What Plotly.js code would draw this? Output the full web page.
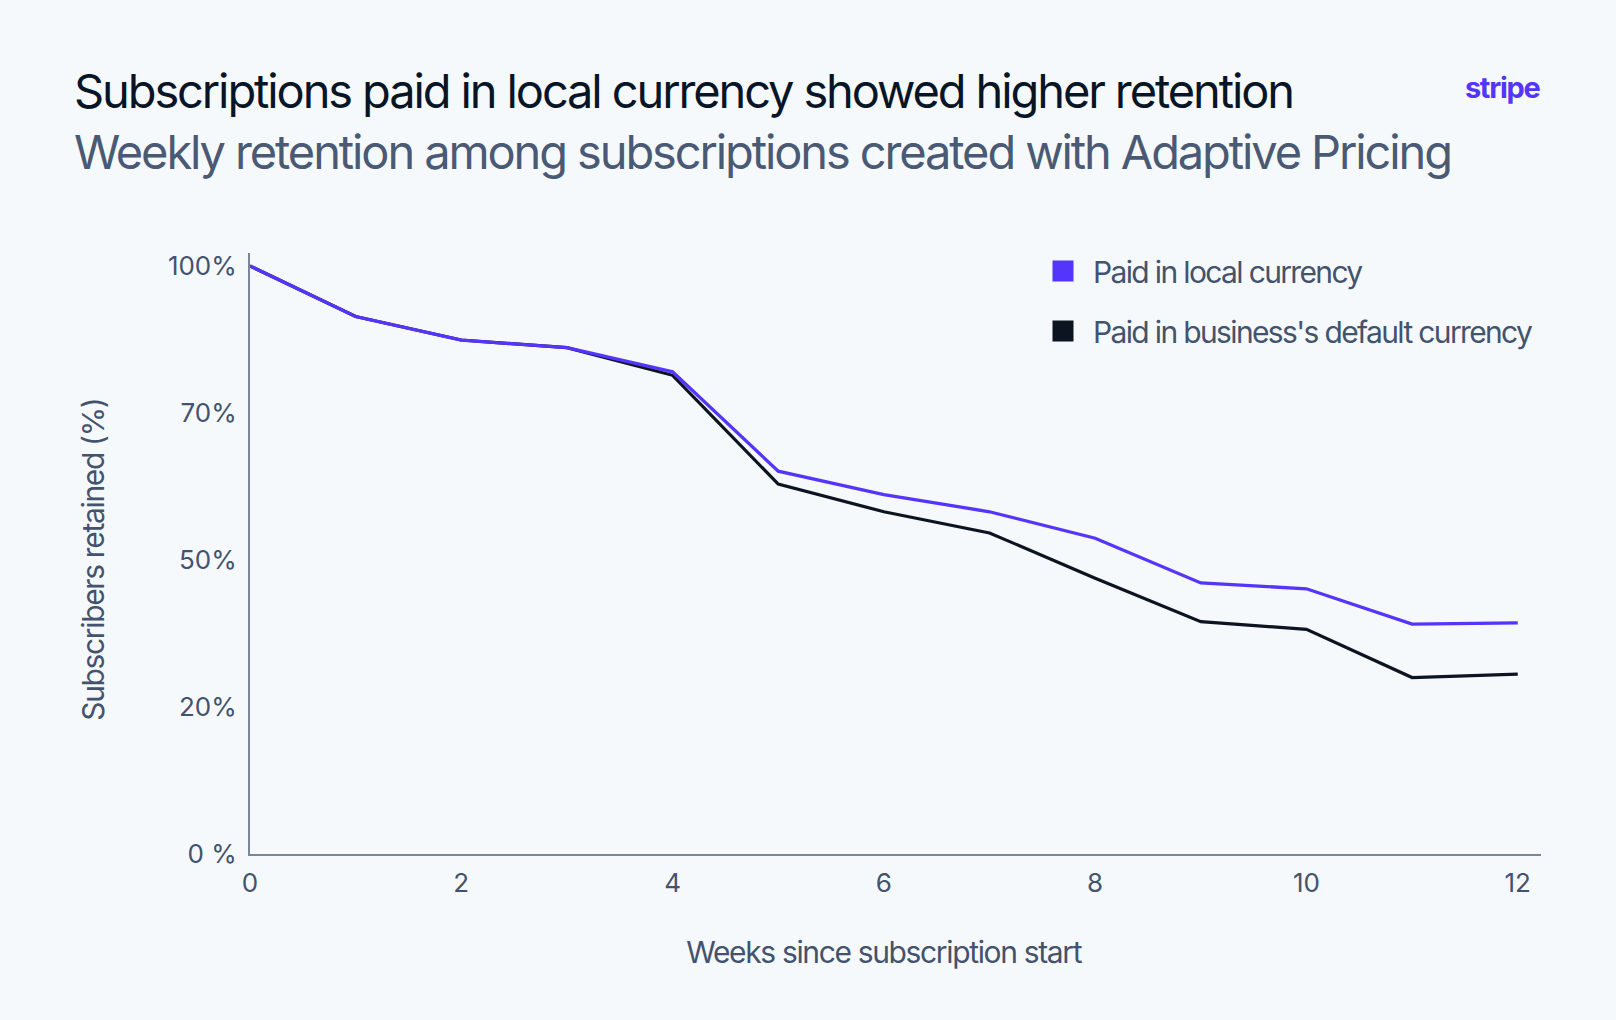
<!DOCTYPE html>
<html><head><meta charset="utf-8">
<script src="https://cdn.plot.ly/plotly-3.0.1.min.js"></script>
<style>
html,body{margin:0;padding:0;background:#f6f9fc;}
#chart{width:1616px;height:1020px;}
#chart svg text{letter-spacing:-0.045em;}
#chart svg g.legend text{letter-spacing:-0.055em;}
#chart svg g.xtick text, #chart svg g.ytick text{letter-spacing:0;}
</style></head><body><div id="chart"></div>
<script>
const weeks = [0,1,2,3,4,5,6,7,8,9,10,11,12];
const localCurrency = [100, 91.4, 87.4, 86.1, 82.0, 65.1, 61.1, 58.2, 53.7, 46.1, 45.1, 39.1, 39.3];
const defaultCurrency = [100, 91.4, 87.4, 86.1, 81.4, 62.9, 58.2, 54.6, 46.9, 39.5, 38.2, 30.0, 30.6];
const seriesNames = ["Paid in local currency", "Paid in business's default currency"];
const xTickVals = [0,2,4,6,8,10,12];
const yTickVals = [0,25,50,75,100];
const yTickText = ["0 %","20%","50%","70%","100%"];
const titleText = 'Subscriptions paid in local currency showed higher retention';
const subtitleText = 'Weekly retention among subscriptions created with Adaptive Pricing';
const xTitleText = 'Weeks since subscription start';
const yTitleText = 'Subscribers retained (%)';

const PURPLE = '#5335fb';
const DARK = '#0b1420';
const SLATE = '#43536d';
const FONT = 'Inter, "Noto Sans", sans-serif';

const traces = [
  {x: weeks, y: defaultCurrency, type:'scatter', mode:'lines', name: seriesNames[1],
   line:{color:DARK, width:3.2}, showlegend:false, hoverinfo:'x+y'},
  {x: weeks, y: localCurrency, type:'scatter', mode:'lines', name: seriesNames[0],
   line:{color:PURPLE, width:3.3}, showlegend:false, hoverinfo:'x+y'},
  {x:[null], y:[null], type:'scatter', mode:'markers', name: seriesNames[0], legendgroup:'a', legendrank:1,
   marker:{symbol:'square', size:16, color:PURPLE, line:{color:PURPLE, width:5}}},
  {x:[null], y:[null], type:'scatter', mode:'markers', name: seriesNames[1], legendgroup:'b', legendrank:2,
   marker:{symbol:'square', size:16, color:DARK, line:{color:DARK, width:5}}}
];

const layout = {
  width:1616, height:1020,
  paper_bgcolor:'#f6f9fc', plot_bgcolor:'#f6f9fc',
  font:{family:FONT, color:SLATE},
  margin:{l:250, r:75, t:253, b:166},
  title:{
    text: titleText + '<br><span style="color:#4a5a74">' + subtitleText + '</span>',
    font:{family:FONT, size:47, color:'#081526'},
    x:74/1616, xanchor:'left', xref:'container',
    y:1-108/1020, yanchor:'top', yref:'container'
  },
  xaxis:{
    range:[0,12.22], tickvals:xTickVals, ticktext:xTickVals.map(String),
    showgrid:false, zeroline:false, showline:true, linecolor:'#7b869b', linewidth:2,
    ticks:'', ticklabelstandoff:5, tickfont:{family:FONT, size:26, color:SLATE},
    fixedrange:true
  },
  yaxis:{
    range:[0,102.2], tickvals:yTickVals, ticktext:yTickText,
    showgrid:false, zeroline:false, showline:true, linecolor:'#7b869b', linewidth:2,
    ticks:'', ticklabelstandoff:6, tickfont:{family:FONT, size:26, color:SLATE},
    fixedrange:true
  },
  legend:{
    x:(1033-250)/1291, xref:'paper', xanchor:'left',
    y:(854-245)/601, yref:'paper', yanchor:'top',
    bgcolor:'rgba(0,0,0,0)', font:{family:FONT, size:30, color:SLATE},
    itemwidth:50, tracegroupgap:18, traceorder:'grouped'
  },
  annotations:[
    {text:'<b>stripe</b>', xref:'paper', yref:'paper', x:1, y:1.275, xanchor:'right', yanchor:'middle',
     xshift:4, showarrow:false, font:{family:FONT, size:29, color:PURPLE, weight:800}},
    {text:xTitleText, xref:'x', yref:'paper', x:6, y:(854-952)/601, xanchor:'center', yanchor:'middle',
     showarrow:false, font:{family:FONT, size:30, color:SLATE}},
    {text:yTitleText, xref:'paper', yref:'y', x:(93-250)/1291, y:50, xanchor:'center', yanchor:'middle',
     textangle:-90, showarrow:false, font:{family:FONT, size:30, color:SLATE}}
  ],
  showlegend:true
};

Plotly.newPlot('chart', traces, layout, {displayModeBar:false, responsive:false, staticPlot:true});
</script>
</body></html>
